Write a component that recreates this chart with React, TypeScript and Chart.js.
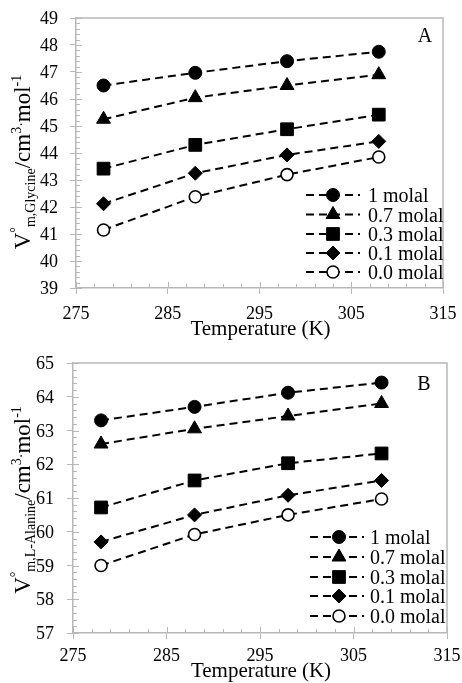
import React, { useEffect, useRef } from 'react';
import { Chart, registerables } from 'chart.js';

Chart.register(...registerables);

// ---- data ----
const temperatures = [278, 288, 298, 308];
const seriesLabels = ['1 molal', '0.7 molal', '0.3 molal', '0.1 molal', '0.0 molal'];

const glycine1 = [46.5, 46.97, 47.4, 47.75];
const glycine07 = [45.25, 46.05, 46.5, 46.9];
const glycine03 = [43.42, 44.3, 44.88, 45.42];
const glycine01 = [42.12, 43.25, 43.93, 44.43];
const glycine00 = [41.15, 42.38, 43.2, 43.85];

const alanine1 = [63.3, 63.7, 64.12, 64.42];
const alanine07 = [62.6, 63.05, 63.43, 63.8];
const alanine03 = [60.72, 61.52, 62.03, 62.32];
const alanine01 = [59.7, 60.5, 61.08, 61.52];
const alanine00 = [59.0, 59.92, 60.5, 60.97];

const xTickMin = 275;
const xTickMax = 315;
const xTickStep = 10;
const xTitle = 'Temperature (K)';

const FONT = "'Liberation Serif', 'Times New Roman', serif";
const AXIS_GRAY = '#b8b8b8';

const markerStyles = [
  { pointStyle: 'circle', radius: 6.5, fill: '#000' },
  { pointStyle: 'triangle', radius: 8, fill: '#000' },
  { pointStyle: 'rect', radius: 9, fill: '#000' },
  { pointStyle: 'rectRot', radius: 7, fill: '#000' },
  { pointStyle: 'circle', radius: 6, fill: '#fff' },
];

type PanelCfg = {
  width: number;
  height: number;
  plotLeft: number;
  plotRight: number;
  plotTop: number;
  plotBottom: number;
  yMin: number;
  yMax: number;
  series: number[][];
  subscript: string;
  letter: string;
  letterX: number;
  letterBaseline: number;
  legendRows: number[];
  legendLineX0: number;
  legendLineX1: number;
  legendMarkerX: number;
  legendTextX: number;
  yTitleX: number;
  yTitleCenterY: number;
  xTitleBaseline: number;
  xLabelBaseline: number;
  yLabelRight: number;
};

function drawMarker(ctx: CanvasRenderingContext2D, i: number, x: number, y: number) {
  const m = markerStyles[i];
  const r = m.radius;
  ctx.save();
  ctx.setLineDash([]);
  ctx.fillStyle = m.fill;
  ctx.strokeStyle = '#000';
  ctx.lineWidth = i === 4 ? 1.6 : 1;
  ctx.beginPath();
  if (m.pointStyle === 'circle') {
    ctx.arc(x, y, r, 0, Math.PI * 2);
  } else if (m.pointStyle === 'triangle') {
    const a = -Math.PI / 2;
    for (let k = 0; k < 3; k++) {
      const ang = a + (k * 2 * Math.PI) / 3;
      const px = x + Math.cos(ang) * r;
      const py = y + Math.sin(ang) * r;
      if (k === 0) ctx.moveTo(px, py);
      else ctx.lineTo(px, py);
    }
    ctx.closePath();
  } else if (m.pointStyle === 'rect') {
    const s = r * Math.SQRT1_2;
    ctx.rect(x - s, y - s, 2 * s, 2 * s);
  } else {
    ctx.moveTo(x, y - r);
    ctx.lineTo(x + r, y);
    ctx.lineTo(x, y + r);
    ctx.lineTo(x - r, y);
    ctx.closePath();
  }
  ctx.fill();
  ctx.stroke();
  ctx.restore();
}

function makePlugin(cfg: PanelCfg) {
  return {
    id: 'decor',
    afterDraw(chart: any) {
      const ctx: CanvasRenderingContext2D = chart.ctx;
      const { left, right, top, bottom } = chart.chartArea;
      const xs = chart.scales.x;
      const ys = chart.scales.y;
      ctx.save();
      // frame top + right
      ctx.strokeStyle = AXIS_GRAY;
      ctx.lineWidth = 1.5;
      ctx.beginPath();
      ctx.moveTo(left, top);
      ctx.lineTo(right, top);
      ctx.lineTo(right, bottom);
      ctx.stroke();
      // ticks inside
      ctx.lineWidth = 1;
      ctx.beginPath();
      for (let v = xTickMin; v <= xTickMax + 1e-9; v += 2) {
        const px = Math.round(xs.getPixelForValue(v)) + 0.5;
        const major = (v - xTickMin) % xTickStep === 0;
        ctx.moveTo(px, bottom);
        ctx.lineTo(px, bottom - (major ? 6 : 4));
      }
      for (let k = 0; k <= (cfg.yMax - cfg.yMin) * 5; k++) {
        const v = cfg.yMin + k * 0.2;
        const py = Math.round(ys.getPixelForValue(v)) + 0.5;
        const major = k % 5 === 0;
        ctx.moveTo(left, py);
        ctx.lineTo(left + (major ? 6 : 4), py);
      }
      ctx.stroke();

      // tick labels from the scales
      ctx.fillStyle = '#000';
      ctx.font = `18px ${FONT}`;
      ctx.textBaseline = 'alphabetic';
      ctx.textAlign = 'center';
      xs.ticks.forEach((t: any) => {
        ctx.fillText(String(t.value), xs.getPixelForValue(t.value), cfg.xLabelBaseline);
      });
      ctx.textAlign = 'right';
      ys.ticks.forEach((t: any) => {
        ctx.fillText(String(t.value), cfg.yLabelRight, ys.getPixelForValue(t.value) + 6);
      });

      // x title
      ctx.font = `21px ${FONT}`;
      ctx.textAlign = 'center';
      ctx.fillText(xTitle, (left + right) / 2 + 1, cfg.xTitleBaseline);

      // panel letter
      ctx.font = `20px ${FONT}`;
      ctx.fillText(cfg.letter, cfg.letterX, cfg.letterBaseline);

      // legend
      seriesLabels.forEach((lab, i) => {
        const y = cfg.legendRows[i];
        ctx.strokeStyle = '#000';
        ctx.lineWidth = 2;
        ctx.setLineDash([8, 5]);
        ctx.beginPath();
        ctx.moveTo(cfg.legendLineX0, y);
        ctx.lineTo(cfg.legendLineX1, y);
        ctx.stroke();
        ctx.setLineDash([]);
        drawMarker(ctx, i, cfg.legendMarkerX, y);
        ctx.fillStyle = '#000';
        ctx.font = `20px ${FONT}`;
        ctx.textAlign = 'left';
        ctx.textBaseline = 'alphabetic';
        ctx.fillText(lab, cfg.legendTextX, y + 7);
      });

      // y title (rich text)
      const main = 23;
      const small = 14;
      const pieces = [
        { t: 'V', s: main, dy: 0 },
        { t: '°', s: small, dy: -10 },
        { t: cfg.subscript, s: small, dy: 5 },
        { t: '/cm', s: main, dy: 0 },
        { t: '3', s: small, dy: -9 },
        { t: '·', s: small, dy: -4 },
        { t: 'mol', s: main, dy: 0 },
        { t: '-1', s: small, dy: -9 },
      ];
      let total = 0;
      const widths = pieces.map((p) => {
        ctx.font = `${p.s}px ${FONT}`;
        const w = ctx.measureText(p.t).width;
        total += w;
        return w;
      });
      ctx.translate(cfg.yTitleX, cfg.yTitleCenterY);
      ctx.rotate(-Math.PI / 2);
      ctx.textBaseline = 'alphabetic';
      ctx.textAlign = 'left';
      let cx = -total / 2;
      pieces.forEach((p, i) => {
        ctx.font = `${p.s}px ${FONT}`;
        ctx.fillText(p.t, cx, p.dy);
        cx += widths[i];
      });
      ctx.restore();
    },
  };
}

function Panel({ cfg }: { cfg: PanelCfg }) {
  const ref = useRef<HTMLCanvasElement | null>(null);
  useEffect(() => {
    if (!ref.current) return;
    const datasets = cfg.series.map((vals, i) => ({
      label: seriesLabels[i],
      data: temperatures.map((t, j) => ({ x: t, y: vals[j] })),
      borderColor: '#000',
      borderWidth: 2,
      borderDash: [8, 5],
      pointStyle: markerStyles[i].pointStyle as any,
      pointRadius: markerStyles[i].radius,
      pointHoverRadius: markerStyles[i].radius,
      pointBackgroundColor: markerStyles[i].fill,
      pointBorderColor: '#000',
      pointBorderWidth: i === 4 ? 1.6 : 1,
      fill: false,
      tension: 0,
    }));
    const chart = new Chart(ref.current, {
      type: 'line',
      data: { datasets },
      options: {
        responsive: false,
        animation: false,
        events: [],
        layout: {
          padding: {
            top: cfg.plotTop,
            right: cfg.width - cfg.plotRight,
            left: 0,
            bottom: 0,
          },
        },
        plugins: {
          legend: { display: false },
          tooltip: { enabled: false },
          title: { display: false },
        },
        scales: {
          x: {
            type: 'linear',
            min: xTickMin,
            max: xTickMax,
            ticks: {
              display: false,
              stepSize: xTickStep,
              maxRotation: 0,
              autoSkip: false,
            },
            grid: {
              display: true,
              drawOnChartArea: false,
              drawTicks: true,
              tickLength: 6,
              color: AXIS_GRAY,
              lineWidth: 1,
            },
            border: { display: true, color: AXIS_GRAY, width: 1.5 },
            afterFit: (s: any) => {
              s.height = cfg.height - cfg.plotBottom;
            },
          },
          y: {
            type: 'linear',
            min: cfg.yMin,
            max: cfg.yMax,
            ticks: {
              display: false,
              stepSize: 1,
            },
            grid: {
              display: true,
              drawOnChartArea: false,
              drawTicks: true,
              tickLength: 6,
              color: AXIS_GRAY,
              lineWidth: 1,
            },
            border: { display: true, color: AXIS_GRAY, width: 1.5 },
            afterFit: (s: any) => {
              s.width = cfg.plotLeft;
            },
          },
        },
      },
      plugins: [makePlugin(cfg)],
    });
    return () => chart.destroy();
  }, [cfg]);
  return (
    <canvas
      ref={ref}
      width={cfg.width}
      height={cfg.height}
      style={{ display: 'block', width: cfg.width, height: cfg.height }}
    />
  );
}

const panelA: PanelCfg = {
  width: 462,
  height: 340,
  plotLeft: 76,
  plotRight: 443,
  plotTop: 18,
  plotBottom: 288,
  yMin: 39,
  yMax: 49,
  series: [glycine1, glycine07, glycine03, glycine01, glycine00],
  subscript: 'm,Glycine',
  letter: 'A',
  letterX: 425,
  letterBaseline: 42,
  legendRows: [195, 214.5, 234, 253, 272],
  legendLineX0: 306,
  legendLineX1: 360,
  legendMarkerX: 333,
  legendTextX: 368,
  yTitleX: 30,
  yTitleCenterY: 162,
  xTitleBaseline: 335,
  xLabelBaseline: 319,
  yLabelRight: 58,
};

const panelB: PanelCfg = {
  width: 462,
  height: 343,
  plotLeft: 73,
  plotRight: 447,
  plotTop: 23,
  plotBottom: 293,
  yMin: 57,
  yMax: 65,
  series: [alanine1, alanine07, alanine03, alanine01, alanine00],
  subscript: 'm,L-Alanine',
  letter: 'B',
  letterX: 424,
  letterBaseline: 50,
  legendRows: [197, 217, 237, 256, 276],
  legendLineX0: 310,
  legendLineX1: 364,
  legendMarkerX: 339,
  legendTextX: 370,
  yTitleX: 30,
  yTitleCenterY: 160,
  xTitleBaseline: 337,
  xLabelBaseline: 321,
  yLabelRight: 54,
};

export default function App() {
  return (
    <div style={{ position: 'absolute', left: 0, top: 0, width: 462, height: 683, background: '#fff' }}>
      <Panel cfg={panelA} />
      <Panel cfg={panelB} />
    </div>
  );
}
